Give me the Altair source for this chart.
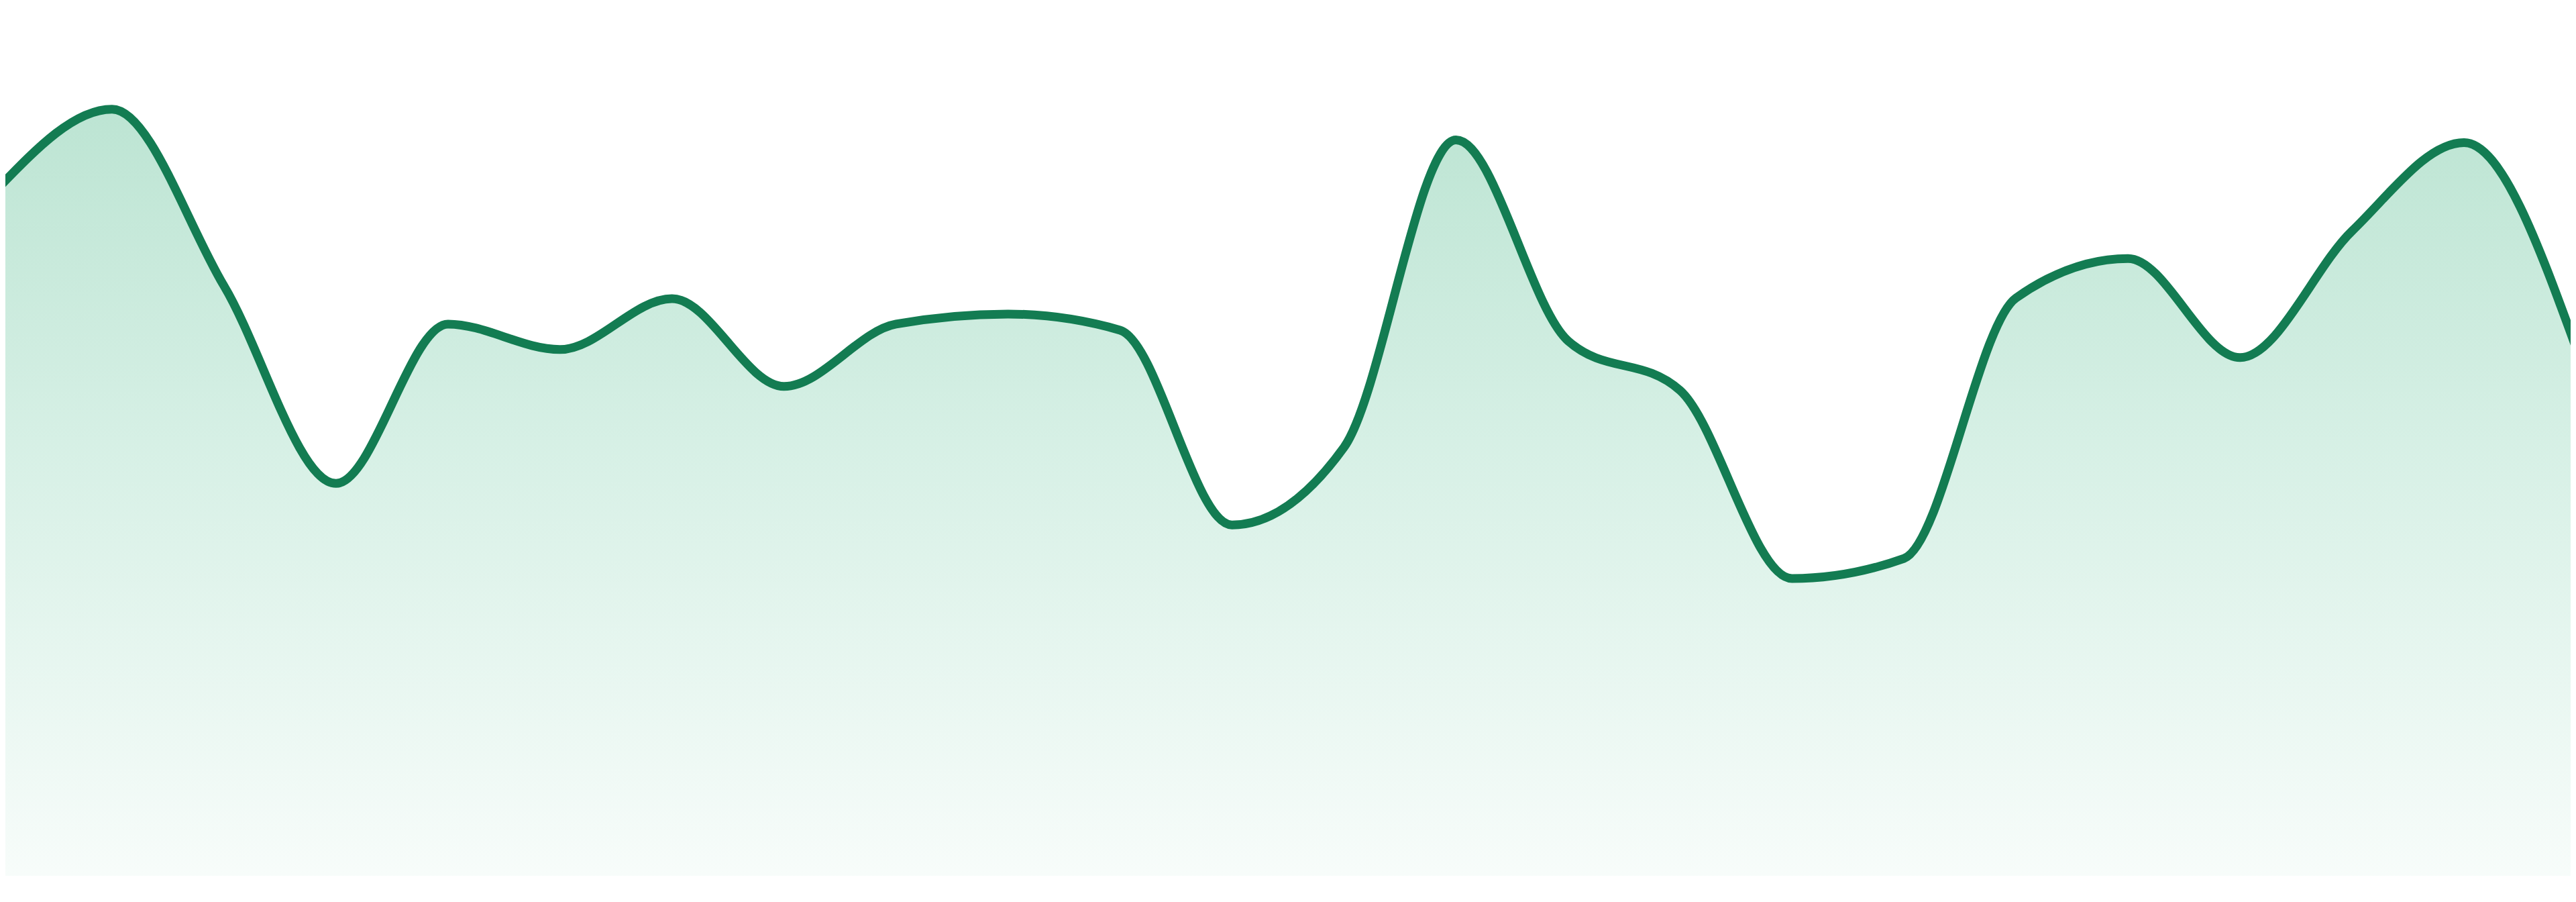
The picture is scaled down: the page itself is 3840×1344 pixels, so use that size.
import altair as alt
import pandas as pd

# sample index (evenly spaced points along x)
index = list(range(24))
# series values (arbitrary units, baseline 0)
values = [103.0, 114.5, 88.1, 58.6, 82.4, 78.6, 86.2, 73.1, 82.4, 83.9, 81.5, 52.4,
          64.0, 109.9, 79.9, 72.5, 44.4, 47.4, 86.3, 92.2, 77.4, 96.3, 109.5, 78.9]

df = pd.DataFrame({"i": index, "v": values})

gradient = alt.Gradient(
    gradient="linear",
    stops=[
        alt.GradientStop(color="#a0d9c0", offset=0),
        alt.GradientStop(color="#c6eadb", offset=0.45),
        alt.GradientStop(color="#f4fbf8", offset=1),
    ],
    x1=1, x2=1, y1=0, y2=1,
)

chart = (
    alt.Chart(df)
    .mark_area(
        interpolate="monotone",
        color=gradient,
        clip=True,
        line=alt.OverlayMarkDef(
            color="#137c52", strokeWidth=13, strokeJoin="round", strokeCap="round", clip=True
        ),
    )
    .encode(
        x=alt.X("i:Q", scale=alt.Scale(domain=[0.0479, 22.952], nice=False, zero=False), axis=None),
        y=alt.Y("v:Q", scale=alt.Scale(domain=[0, 130], nice=False, zero=True), axis=None),
    )
    .properties(width=3824, height=1297, padding=0, background="white")
    .configure_view(stroke=None)
)

chart.save("out.html", embed_options={"renderer": "svg", "actions": False})
